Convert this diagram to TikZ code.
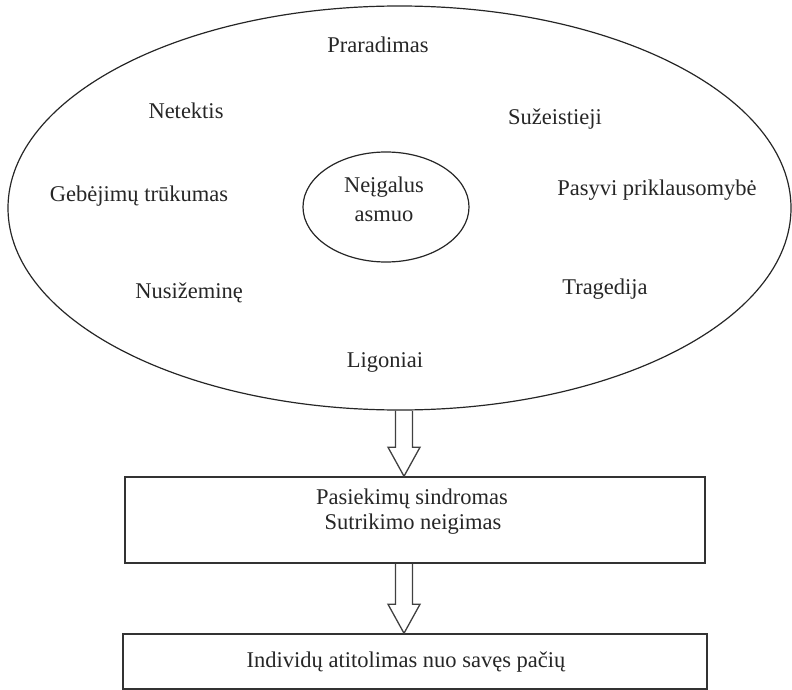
\documentclass[tikz,border=0pt]{standalone}
\usepackage{fontspec}
\setmainfont{Liberation Serif}
\usetikzlibrary{calc,shapes.geometric}
\begin{document}
\begin{tikzpicture}[x=1pt,y=-1pt,
  lbl/.style={inner sep=0pt,font=\fontsize{22.5}{27}\selectfont,text=black!85},
  oval/.style={draw=black!85,line width=1.2pt,ellipse,inner sep=0pt},
  boxnode/.style={draw=black!80,line width=1.5pt,rectangle,inner sep=0pt},
  hollow/.style={draw=black!75,line width=1.3pt,line join=miter}]
\useasboundingbox (0,0) rectangle (792,690);
\node[oval,minimum width=783pt,minimum height=404pt] (big) at (399.5,208) {};
\node[oval,minimum width=166pt,minimum height=110pt] (inner) at (386,207) {};
\node[lbl,align=center,font=\fontsize{22.5}{29}\selectfont] (neig) at (384,199) {Neįgalus\\asmuo};
\node[lbl] (t1) at (378,45) {Praradimas};
\node[lbl] (t2) at (186,111) {Netektis};
\node[lbl] (t3) at (555,119) {Sužeistieji};
\node[lbl] (t4) at (139,196) {Gebėjimų trūkumas};
\node[lbl] (t5) at (657,190) {Pasyvi priklausomybė};
\node[lbl] (t6) at (189,293) {Nusižeminę};
\node[lbl] (t7) at (605,289) {Tragedija};
\node[lbl] (t8) at (385,362) {Ligoniai};
\node[boxnode,minimum width=580pt,minimum height=86pt] (box1) at (415,520) {};
\node[lbl] (b1a) at (412,499) {Pasiekimų sindromas};
\node[lbl] (b1b) at (413,524) {Sutrikimo neigimas};
\node[boxnode,minimum width=584pt,minimum height=55pt] (box2) at (415,661.5) {};
\node[lbl] (b2a) at (406,662) {Individų atitolimas nuo savęs pačių};
\coordinate (ax) at (404,0);
\draw[hollow] ($(big.south -| ax)+(-8.5,0)$) -- ($(box1.north -| ax)+(-8.5,-29)$)
  -- ($(box1.north -| ax)+(-16,-29)$) -- (box1.north -| ax)
  -- ($(box1.north -| ax)+(16,-29)$) -- ($(box1.north -| ax)+(8.5,-29)$)
  -- ($(big.south -| ax)+(8.5,0)$);
\draw[hollow] ($(box1.south -| ax)+(-8.5,0)$) -- ($(box2.north -| ax)+(-8.5,-29)$)
  -- ($(box2.north -| ax)+(-16,-29)$) -- (box2.north -| ax)
  -- ($(box2.north -| ax)+(16,-29)$) -- ($(box2.north -| ax)+(8.5,-29)$)
  -- ($(box1.south -| ax)+(8.5,0)$);
\end{tikzpicture}
\end{document}
